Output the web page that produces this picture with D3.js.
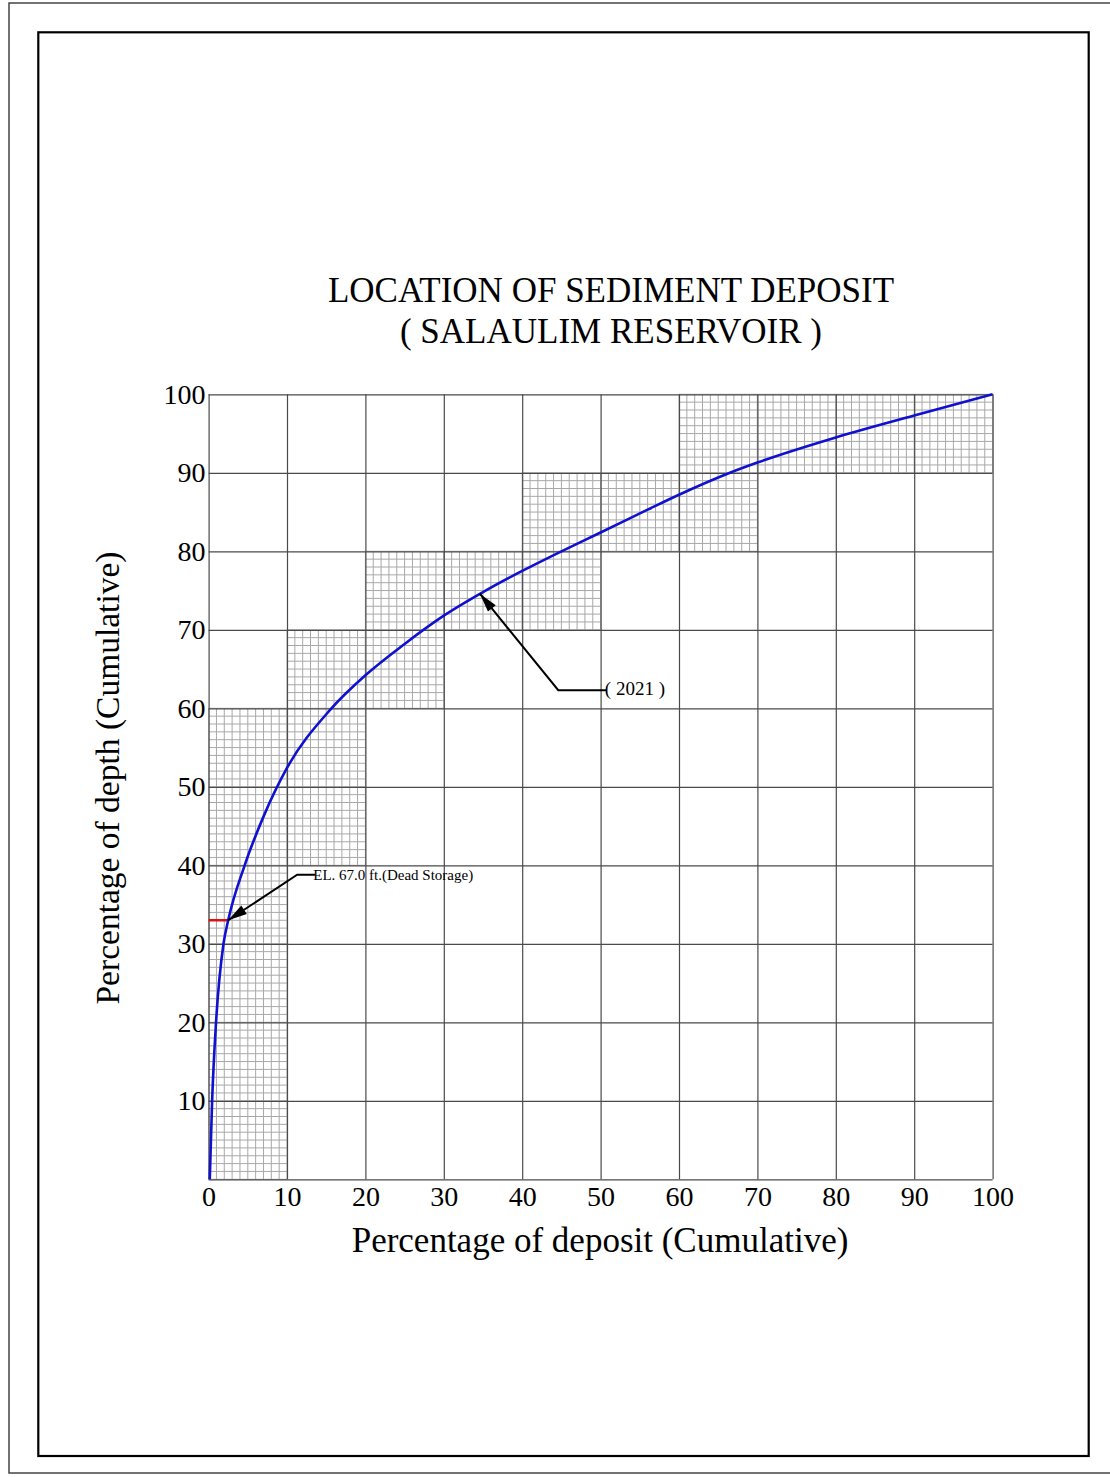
<!DOCTYPE html>
<html><head><meta charset="utf-8">
<script src="https://cdn.jsdelivr.net/npm/d3@7"></script>
<style>
html,body{margin:0;padding:0;background:#fff;}
svg{display:block;}
text{font-family:"Liberation Serif","Times New Roman",serif;fill:#000;}
</style></head>
<body>
<svg id="chart" width="1110" height="1477"></svg>
<script>
// ---- data ----
const titleLines = ["LOCATION OF SEDIMENT DEPOSIT", "( SALAULIM RESERVOIR )"];
const xLabel = "Percentage of deposit (Cumulative)";
const yLabel = "Percentage of depth (Cumulative)";
const xTickValues = [0,10,20,30,40,50,60,70,80,90,100];
const yTickValues = [10,20,30,40,50,60,70,80,90,100];
const depositPct = [0.15,0.45,0.95,1.9,2.5,4.6,7,10,15.5,20,25,30,35,40,45,50,56,60,66.5,70,80,90,100];
const depthPct   = [0,   10,  20,  30, 33, 40, 46.2,52.4,59.8,64.2,68.2,71.8,74.8,77.5,80,82.4,85.3,87.2,90,91.3,94.5,97.3,100];
// fine-grid blocks: [x0,x1,y0,y1]
const blockX0 = [0, 10, 20, 30, 40, 50, 60, 70];
const blockX1 = [10,20, 30, 40, 50, 60, 70, 100];
const blockY0 = [0, 40, 60, 70, 70, 80, 80, 90];
const blockY1 = [60,70, 80, 80, 90, 90, 100,100];
// dead storage level
const deadStorageDepth = 33;
const deadStorageDeposit = 2.5;
// annotations: leader from tip -> elbow -> end (data units)
const annTexts = ["EL. 67.0 ft.(Dead Storage)", "( 2021 )"];
const annTip   = [[2.5,33],[34.6,74.6]];
const annElbow = [[11.3,38.8],[44.6,62.3]];
const annEnd   = [[13.6,38.8],[50.8,62.3]];

// ---- drawing ----
const svg = d3.select("#chart");
const x = d3.scaleLinear().domain([0,100]).range([208.6, 992.6]);
const y = d3.scaleLinear().domain([0,100]).range([1179.3, 394.3]);

// borders
svg.append("rect").attr("x",9).attr("y",3).attr("width",1110).attr("height",1470)
  .attr("fill","none").attr("stroke","#444").attr("stroke-width",1.5);
svg.append("rect").attr("x",38.3).attr("y",32.3).attr("width",1050.4).attr("height",1423.7)
  .attr("fill","none").attr("stroke","#000").attr("stroke-width",2.2);

// fine grid
const fine = svg.append("g").attr("stroke","#a8a8a8").attr("stroke-width",1);
blockX0.forEach((bx0,i)=>{
  const bx1=blockX1[i], by0=blockY0[i], by1=blockY1[i];
  d3.range(bx0, bx1+1).forEach(v=>{
    fine.append("line").attr("x1",x(v)).attr("x2",x(v)).attr("y1",y(by0)).attr("y2",y(by1));
  });
  d3.range(by0, by1+1).forEach(v=>{
    fine.append("line").attr("x1",x(bx0)).attr("x2",x(bx1)).attr("y1",y(v)).attr("y2",y(v));
  });
});

// major grid via axes
const gx = svg.append("g").attr("transform",`translate(0,${y(0)})`)
  .call(d3.axisBottom(x).tickValues(xTickValues).tickSize(-(y(0)-y(100))).tickFormat(""));
gx.select(".domain").remove();
gx.selectAll("line").attr("stroke","#4a4a4a").attr("stroke-width",1.2);
const gy = svg.append("g").attr("transform",`translate(${x(0)},0)`)
  .call(d3.axisLeft(y).tickValues([0].concat(yTickValues)).tickSize(-(x(100)-x(0))).tickFormat(""));
gy.select(".domain").remove();
gy.selectAll("line").attr("stroke","#4a4a4a").attr("stroke-width",1.2);

// tick labels
const lx = svg.append("g").attr("transform",`translate(0,${y(0)})`)
  .call(d3.axisBottom(x).tickValues(xTickValues).tickSize(0).tickPadding(7).tickFormat(d3.format("d")));
lx.select(".domain").remove();
lx.selectAll("text").attr("font-size",28).attr("font-family","Liberation Serif").attr("fill","#000")
  .attr("dy","0.71em");
const ly = svg.append("g").attr("transform",`translate(${x(0)},0)`)
  .call(d3.axisLeft(y).tickValues(yTickValues).tickSize(0).tickPadding(3).tickFormat(d3.format("d")));
ly.select(".domain").remove();
ly.selectAll("text").attr("font-size",28).attr("font-family","Liberation Serif").attr("fill","#000");

// titles
svg.append("text").attr("x",611).attr("y",302).attr("text-anchor","middle").attr("font-size",35).text(titleLines[0]);
svg.append("text").attr("x",611).attr("y",343).attr("text-anchor","middle").attr("font-size",35).text(titleLines[1]);
svg.append("text").attr("x",600).attr("y",1252).attr("text-anchor","middle").attr("font-size",35).text(xLabel);
svg.append("text").attr("transform","translate(119,778) rotate(-90)").attr("text-anchor","middle").attr("font-size",33.5).text(yLabel);

// dead storage red line
svg.append("line").attr("x1",x(0)).attr("x2",x(deadStorageDeposit))
  .attr("y1",y(deadStorageDepth)).attr("y2",y(deadStorageDepth))
  .attr("stroke","#e01010").attr("stroke-width",2.5);

// curve
const pts = depositPct.map((d,i)=>[d, depthPct[i]]);
svg.append("path").datum(pts)
  .attr("d", d3.line().x(d=>x(d[0])).y(d=>y(d[1])).curve(d3.curveMonotoneX))
  .attr("fill","none").attr("stroke","#1010d0").attr("stroke-width",2.6);

// annotations
annTexts.forEach((t,i)=>{
  const tip=[x(annTip[i][0]),y(annTip[i][1])], el=[x(annElbow[i][0]),y(annElbow[i][1])], en=[x(annEnd[i][0]),y(annEnd[i][1])];
  svg.append("path").attr("d",`M${tip[0]},${tip[1]}L${el[0]},${el[1]}L${en[0]},${en[1]}`)
    .attr("fill","none").attr("stroke","#000").attr("stroke-width",2);
  const ang=Math.atan2(el[1]-tip[1], el[0]-tip[0]);
  const L=19, W=5;
  const bx=tip[0]+L*Math.cos(ang), by=tip[1]+L*Math.sin(ang);
  const px=-Math.sin(ang)*W, py=Math.cos(ang)*W;
  svg.append("path").attr("d",`M${tip[0]},${tip[1]}L${bx+px},${by+py}L${bx-px},${by-py}Z`).attr("fill","#000");
  svg.append("text").attr("x",en[0]-2).attr("y",en[1]+5).attr("font-size", i===0?15:19).text(t);
});
</script>
</body></html>
